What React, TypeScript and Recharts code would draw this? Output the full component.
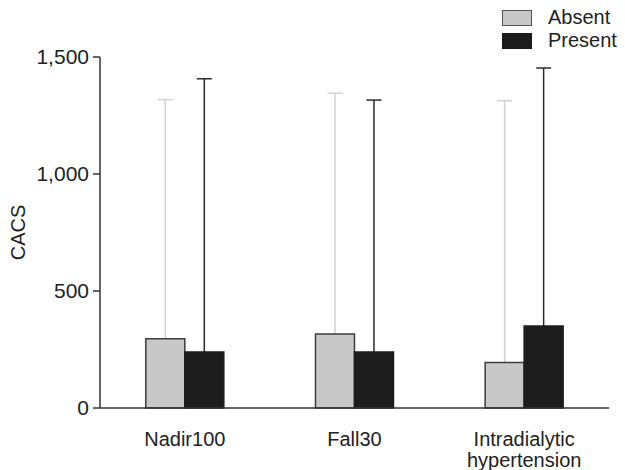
import { BarChart, Bar, XAxis, YAxis, Legend, Rectangle } from 'recharts';

const categories = ['Nadir100', 'Fall30', 'Intradialytic hypertension'];
const absentMean = [296, 316, 194];
const presentMean = [239, 239, 350];
// top of the (upper only) error whisker
const absentUpper = [1318, 1345, 1313];
const presentUpper = [1407, 1316, 1453];
const yTicks = [0, 500, 1000, 1500];
const boundaryTicks = [0, 1, 2, 3];

const seriesInfo = [
    { key: 'absent', name: 'Absent', fill: '#c8c8c8', stroke: '#3c3c3c', whisker: '#d2d2d2' },
    { key: 'present', name: 'Present', fill: '#1c1c1c', stroke: '#1c1c1c', whisker: '#2a2a2a' },
];

const data = categories.map((cat, i) => ({
    cat,
    absent: absentMean[i],
    present: presentMean[i],
    absentUpper: absentUpper[i],
    presentUpper: presentUpper[i],
}));

const FONT = 'Arial, "Liberation Sans", sans-serif';
const TEXT = '#222';

function CategoryTick({ x, y, payload }: any) {
    const lines = String(payload.value).split(' ');
    return (
        <text x={x} y={y + 30} textAnchor="middle" fontSize={20} fontFamily={FONT} fill={TEXT}>
            {lines.map((ln, i) => (
                <tspan key={i} x={x} dy={i === 0 ? 0 : 21}>{ln}</tspan>
            ))}
        </text>
    );
}

// bar rect plus an upper-only whisker, scaled from the bar's own pixel height
function makeShape(s: (typeof seriesInfo)[number]) {
    return (props: any) => {
        const { x, y, width, height, payload } = props;
        const value = payload[s.key];
        const pxPerUnit = value ? height / value : 0;
        const base = y + height;
        const topY = base - payload[`${s.key}Upper`] * pxPerUnit;
        const cx = x + width / 2;
        return (
            <g>
                <line x1={cx} x2={cx} y1={y} y2={topY} stroke={s.whisker} strokeWidth={1.5} />
                <line x1={cx - 7.5} x2={cx + 7.5} y1={topY} y2={topY} stroke={s.whisker} strokeWidth={1.5} />
                <Rectangle x={x} y={y} width={width} height={height} fill={s.fill} stroke={s.stroke} strokeWidth={1.5} />
            </g>
        );
    };
}

function LegendBox() {
    return (
        <div style={{ fontFamily: FONT, fontSize: 20, color: TEXT, whiteSpace: 'nowrap' }}>
            {seriesInfo.map((s) => (
                <div key={s.key} style={{ display: 'flex', alignItems: 'center', height: 23 }}>
                    <span
                        style={{
                            display: 'inline-block',
                            width: 28,
                            height: 14,
                            background: s.fill,
                            border: `1px solid ${s.key === 'absent' ? '#555' : s.fill}`,
                            marginRight: 16,
                        }}
                    />
                    <span>{s.name}</span>
                </div>
            ))}
        </div>
    );
}

export default function App() {
    return (
        <BarChart
            width={617}
            height={462}
            data={data}
            margin={{ top: 49, right: 16, left: 0, bottom: 12 }}
            barCategoryGap="27%"
            barGap={0}
        >
            <XAxis
                xAxisId="bounds"
                type="number"
                domain={[0, 3]}
                ticks={boundaryTicks}
                allowDataOverflow
                height={0}
                axisLine={false}
                tickLine={{ stroke: '#333', strokeWidth: 1.5 }}
                tickSize={8}
                tickFormatter={() => ''}
            />
            <XAxis
                xAxisId="cat"
                dataKey="cat"
                height={50}
                axisLine={{ stroke: '#333', strokeWidth: 1.5 }}
                tickLine={false}
                tick={<CategoryTick />}
                interval={0}
            />
            <YAxis
                width={92}
                domain={[0, 1500]}
                ticks={yTicks}
                tickFormatter={(v: number) => v.toLocaleString('en-US')}
                tick={{ fontSize: 21, fontFamily: FONT, fill: TEXT }}
                axisLine={{ stroke: '#333', strokeWidth: 1.5 }}
                tickLine={{ stroke: '#333', strokeWidth: 1.5 }}
                tickSize={7}
                tickMargin={4}
                label={({ viewBox }: any) => (
                    <text
                        x={17}
                        y={viewBox.y + viewBox.height / 2}
                        transform={`rotate(-90, 17, ${viewBox.y + viewBox.height / 2})`}
                        textAnchor="middle"
                        fontSize={20}
                        fontFamily={FONT}
                        fill={TEXT}
                    >
                        CACS
                    </text>
                )}
            />
            <Legend
                layout="horizontal"
                verticalAlign="middle"
                content={<LegendBox />}
                wrapperStyle={{ top: -2, left: 494, width: 125, height: 'auto' }}
            />
            {seriesInfo.map((s) => (
                <Bar
                    key={s.key}
                    xAxisId="cat"
                    dataKey={s.key}
                    name={s.name}
                    fill={s.fill}
                    stroke={s.stroke}
                    shape={makeShape(s)}
                    isAnimationActive={false}
                />
            ))}
        </BarChart>
    );
}
